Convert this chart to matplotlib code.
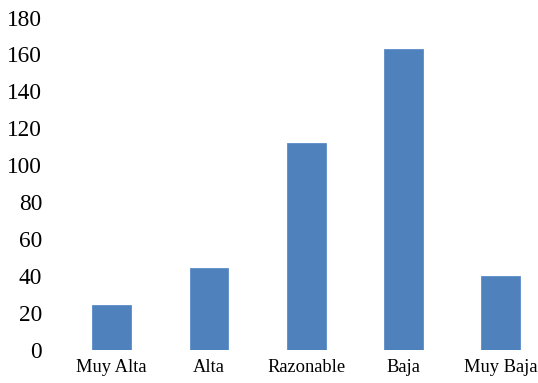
import matplotlib
matplotlib.use("Agg")
import matplotlib.pyplot as plt

categories = ["Muy Alta", "Alta", "Razonable", "Baja", "Muy Baja"]
values = [24, 44, 112, 163, 40]
y_ticks = [0, 20, 40, 60, 80, 100, 120, 140, 160, 180]

plt.rcParams["font.family"] = ["Liberation Serif", "DejaVu Serif"]

W, H = 538, 383
fig = plt.figure(figsize=(W / 100, H / 100), dpi=100)
left_px, right_px = 63, 549.6
bottom_px, top_px = 349.5, 17.5
ax = fig.add_axes([left_px / W, (H - bottom_px) / H,
                   (right_px - left_px) / W, (bottom_px - top_px) / H])

x = list(range(len(categories)))
ax.bar(x, values, width=0.4, color="#4F81BD", edgecolor="#5B8CC8", linewidth=0.6)

ax.set_xlim(-0.5, len(categories) - 0.5)
ax.set_ylim(0, 180)
ax.set_yticks(y_ticks)
ax.set_yticklabels([str(t) for t in y_ticks], fontsize=16.8)
ax.set_xticks(x)
ax.set_xticklabels(categories, fontsize=13.3)
ax.tick_params(axis="y", length=0, pad=15)
ax.tick_params(axis="x", length=0, pad=7)
for s in ax.spines.values():
    s.set_visible(False)

fig.savefig("out.png", dpi=100)
